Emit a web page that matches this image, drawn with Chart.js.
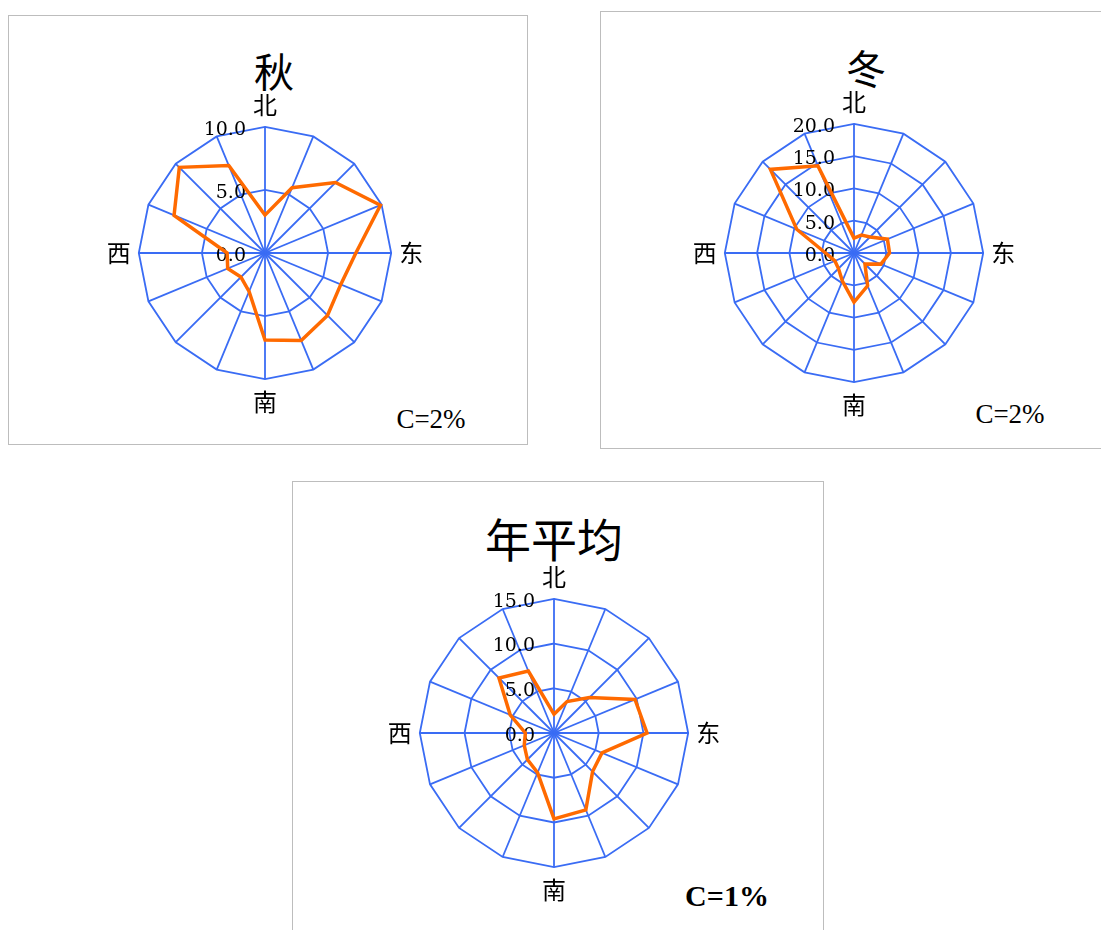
<!DOCTYPE html>
<html>
<head>
<meta charset="utf-8">
<script src="https://cdn.jsdelivr.net/npm/chart.js@4"></script>
<style>
  html, body { margin: 0; padding: 0; background: #fff; }
  #page { position: relative; width: 1101px; height: 930px; overflow: hidden; }
  .box { position: absolute; border: 1px solid #bdbdbd; box-sizing: border-box; }
  .txt { position: absolute; transform: translate(-50%, -50%); line-height: 1; white-space: nowrap; color: #000; }
  .title { font-family: "Noto Sans CJK SC", sans-serif; }
  .calm { font-family: "Liberation Serif", serif; font-size: 27px; }
  canvas { position: absolute; }
</style>
</head>
<body>
<div id="page">
  <div class="box" style="left:8px; top:15px; width:520px; height:430px;"></div>
  <div class="box" style="left:600px; top:11px; width:510px; height:438px;"></div>
  <div class="box" style="left:292px; top:481px; width:532px; height:470px;"></div>

  <div class="txt title" style="left:274px; top:70px; font-size:40px;">秋</div>
  <div class="txt title" style="left:866px; top:67px; font-size:40px;">冬</div>
  <div class="txt title" style="left:554px; top:537px; font-size:46px;">年平均</div>

  <div class="txt calm" style="left:431px; top:419px;">C=2%</div>
  <div class="txt calm" style="left:1010px; top:414px;">C=2%</div>
  <div class="txt calm" style="left:727px; top:896px; font-size:30px; font-weight:bold;">C=1%</div>

  <canvas id="chart-autumn" width="326" height="326" style="left:102px; top:91px;"></canvas>
  <canvas id="chart-winter" width="332" height="332" style="left:688px; top:88px;"></canvas>
  <canvas id="chart-annual" width="342" height="342" style="left:383px; top:563px;"></canvas>
</div>

<script>
// 16 wind directions, clockwise from north; only the cardinal ones are labelled
const directions = ['北', '', '', '', '东', '', '', '', '南', '', '', '', '西', '', '', ''];

// frequency (%) per direction
const autumnValues = [3.0, 5.6, 7.9, 9.9, 7.2, 6.5, 7.0, 7.5, 6.9, 3.3, 2.7, 3.2, 3.0, 7.8, 9.6, 7.5];
const winterValues = [2.3, 3.0, 3.5, 5.6, 5.5, 4.5, 2.4, 5.5, 7.6, 4.7, 3.4, 3.2, 4.4, 9.6, 18.3, 14.6];
const annualValues = [2.1, 3.8, 5.6, 9.8, 10.4, 5.8, 6.1, 9.3, 9.6, 4.8, 4.2, 3.6, 3.2, 5.3, 8.7, 7.5];

// axis maxima (ticks every 5)
const autumnMax = 10;
const winterMax = 20;
const annualMax = 15;
const tickStep = 5;

const BLUE = '#3a6cf4';
const ORANGE = '#ff6a00';

// tick labels sit left of the north axis, like the original
const leftTicks = {
    id: 'leftTicks',
    beforeDatasetsDraw(chart) {
        const s = chart.scales.r;
        const ctx = chart.ctx;
        ctx.save();
        ctx.font = '19px "DejaVu Serif", serif';
        ctx.fillStyle = '#000';
        ctx.textAlign = 'right';
        ctx.textBaseline = 'middle';
        s.ticks.forEach(t => {
            const d = s.getDistanceFromCenterForValue(t.value);
            ctx.fillText(t.value.toFixed(1), s.xCenter - 19, s.yCenter - d + 3);
        });
        ctx.restore();
    }
};

function makeRose(id, values, max) {
    const el = document.getElementById(id);
    if (!el) return;
    new Chart(el, {
        type: 'radar',
        data: {
            labels: directions,
            datasets: [{
                data: values,
                borderColor: ORANGE,
                borderWidth: 3.5,
                pointRadius: 0,
                fill: false,
                tension: 0
            }]
        },
        options: {
            responsive: false,
            animation: false,
            plugins: {
                legend: { display: false },
                tooltip: { enabled: false }
            },
            scales: {
                r: {
                    min: 0,
                    max: max,
                    ticks: { stepSize: tickStep, display: false },
                    grid: { color: BLUE, lineWidth: 1.8, circular: false },
                    angleLines: { color: BLUE, lineWidth: 1.8 },
                    pointLabels: {
                        color: '#000',
                        padding: 8,
                        font: { size: 24, family: '"Noto Sans CJK SC", sans-serif' }
                    }
                }
            }
        },
        plugins: [leftTicks]
    });
}

makeRose('chart-autumn', autumnValues, autumnMax);
makeRose('chart-winter', winterValues, winterMax);
makeRose('chart-annual', annualValues, annualMax);
</script>
</body>
</html>
